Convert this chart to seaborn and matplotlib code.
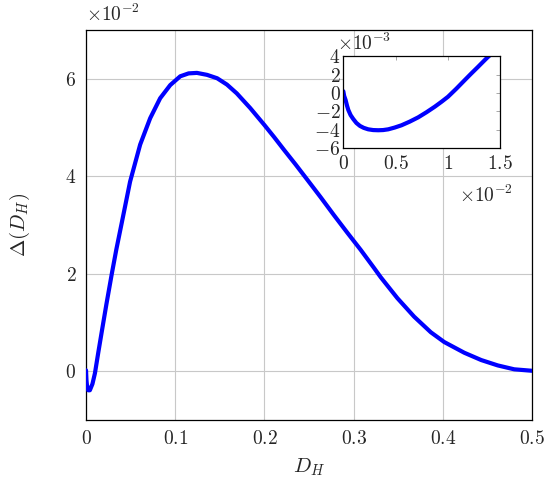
import matplotlib
matplotlib.use("Agg")
import matplotlib.pyplot as plt
import pandas as pd
import seaborn as sns

# main curve, D_H vs Delta(D_H) (Delta in units of 1e-2)
d_h = [0, 0.0005, 0.001, 0.0024, 0.0043, 0.0072, 0.010, 0.0138, 0.018, 0.0229,
       0.0289, 0.034, 0.040, 0.0494, 0.0607, 0.0719, 0.0831, 0.0944, 0.1056,
       0.115, 0.1243, 0.1356, 0.147, 0.158, 0.169, 0.184, 0.200, 0.211, 0.222,
       0.235, 0.248, 0.263, 0.278, 0.293, 0.3079, 0.3228, 0.3303, 0.349,
       0.3678, 0.3865, 0.4015, 0.424, 0.443, 0.4615, 0.480, 0.500]
delta_e2 = [0.02, -0.18, -0.28, -0.39, -0.39, -0.26, -0.04, 0.39, 0.85, 1.38,
            2.00, 2.50, 3.04, 3.89, 4.65, 5.19, 5.60, 5.87, 6.05,
            6.11, 6.12, 6.08, 6.01, 5.88, 5.70, 5.40, 5.05, 4.80, 4.54,
            4.24, 3.93, 3.57, 3.20, 2.84, 2.49, 2.12, 1.93, 1.50,
            1.12, 0.80, 0.60, 0.38, 0.23, 0.12, 0.04, 0.01]

# inset zoom near origin (D_H in 1e-2, Delta in 1e-3)
inset_dh_e2 = [0, 0.008, 0.022, 0.035, 0.048, 0.07, 0.095, 0.125, 0.159,
               0.195, 0.238, 0.285, 0.334, 0.38, 0.429, 0.49, 0.556, 0.635,
               0.715, 0.795, 0.874, 0.94, 1.0, 1.08, 1.16, 1.22, 1.287,
               1.335, 1.382, 1.42]
inset_delta_e3 = [0.2, -0.3, -0.76, -1.35, -1.84, -2.40, -2.82, -3.25, -3.57,
                  -3.78, -3.94, -4.02, -4.04, -4.02, -3.94, -3.75, -3.50, -3.10,
                  -2.64, -2.08, -1.48, -0.93, -0.40, 0.48, 1.41, 2.10, 2.85,
                  3.40, 3.93, 4.3]

main_xticks = [0, 0.1, 0.2, 0.3, 0.4, 0.5]
main_yticks = [0, 2, 4, 6]
inset_xticks = [0, 0.5, 1, 1.5]
inset_yticks = [-6, -4, -2, 0, 2, 4]

sns.set_style("white")
plt.rcParams['font.family'] = 'serif'
plt.rcParams['font.serif'] = ['cmr10', 'DejaVu Serif']
plt.rcParams['mathtext.fontset'] = 'cm'
plt.rcParams['axes.formatter.use_mathtext'] = True

main_df = pd.DataFrame({'x': d_h, 'y': delta_e2})
inset_df = pd.DataFrame({'x': inset_dh_e2, 'y': inset_delta_e3})

fig = plt.figure(figsize=(5.5, 4.83), dpi=100)
ax = fig.add_axes([0.1564, 0.1304, 0.811, 0.8075])

sns.lineplot(data=main_df, x='x', y='y', ax=ax, color='#0000ff', linewidth=3.0,
             sort=False, zorder=3)
ax.set_xlim(0, 0.5)
ax.set_ylim(-1, 7)
ax.set_xticks(main_xticks)
ax.set_xticklabels([f'${t:g}$' for t in main_xticks])
ax.set_yticks(main_yticks)
ax.set_yticklabels([f'${t:g}$' for t in main_yticks])
ax.grid(True, color='#c8c8c8', linewidth=0.8)
ax.tick_params(direction='in', length=0, labelsize=14, pad=7)
for s in ax.spines.values():
    s.set_color('black')
    s.set_linewidth(0.9)
ax.set_xlabel('$D_H$', fontsize=15, labelpad=6)
ax.set_ylabel(r'$\Delta(D_H)$', fontsize=15, labelpad=24)
ax.text(0.0, 1.012, r'$\times10^{-2}$', transform=ax.transAxes, fontsize=14,
        ha='left', va='bottom')

# inset
axi = fig.add_axes([0.6242, 0.693, 0.2855, 0.1905])
axi.set_facecolor('white')
sns.lineplot(data=inset_df, x='x', y='y', ax=axi, color='#0000ff', linewidth=3.0,
             sort=False)
axi.set_xlim(0, 1.5)
axi.set_ylim(-6, 4)
axi.set_xticks(inset_xticks)
axi.set_xticklabels([f'${t:g}$' for t in inset_xticks])
axi.set_yticks(inset_yticks)
axi.set_yticklabels([f'${t:g}$' if t >= 0 else f'$-{abs(t):g}$' for t in inset_yticks])
axi.tick_params(direction='in', length=3, width=0.6, color='#999999',
                top=True, right=True, labelsize=14, pad=5)
axi.tick_params(axis='y', pad=2)
axi.set_xlabel('')
axi.set_ylabel('')
for s in axi.spines.values():
    s.set_color('black')
    s.set_linewidth(0.9)
axi.text(-0.04, 1.03, r'$\times10^{-3}$', transform=axi.transAxes, fontsize=14,
         ha='left', va='bottom')
axi.text(1.08, -0.4, r'$\times10^{-2}$', transform=axi.transAxes, fontsize=14,
         ha='right', va='top')

fig.savefig('out.png', dpi=100)
